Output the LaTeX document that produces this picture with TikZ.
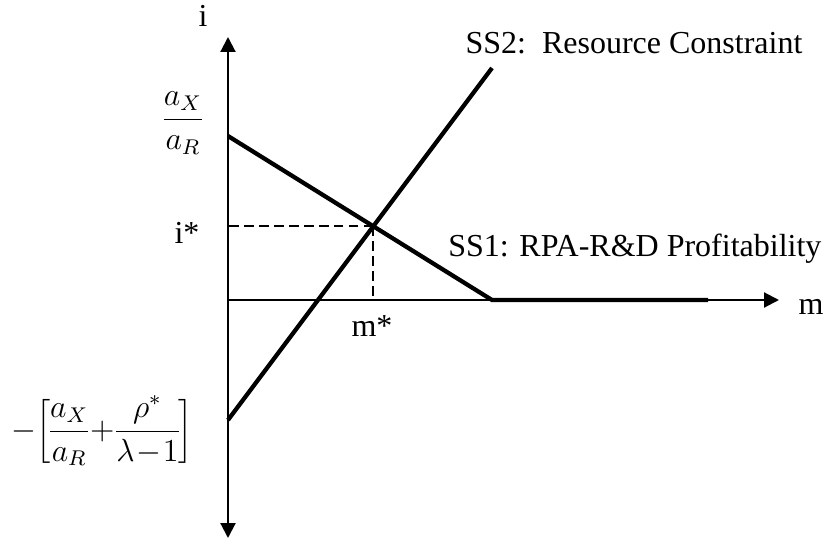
\documentclass[tikz,border=0pt]{standalone}
\usepackage{fontspec}
\setmainfont{Liberation Serif}
\usepackage{tikz}
\usetikzlibrary{arrows.meta}

\begin{document}
\begin{tikzpicture}[x=0.375pt, y=-0.375pt, font=\fontsize{12}{14}\selectfont,
  >={Triangle[length=5.6pt, width=5.6pt]},
  axis/.style={line width=0.8pt},
  curve/.style={line width=1.6pt, line join=miter},
  guide/.style={line width=0.7pt, dash pattern=on 3.6pt off 2pt},
  lbl/.style={inner sep=0pt}]
  \useasboundingbox (0,0) rectangle (830,539);
  % axes
  \coordinate (O) at (228,300);
  \coordinate (itop) at (228,37);
  \coordinate (ibot) at (228,538);
  \coordinate (mend) at (779,300);
  \draw[axis, <->] (ibot) -- (itop);
  \draw[axis, ->] (O) -- (mend);
  % SS1 and SS2
  \coordinate (ss1a) at (228,136);
  \coordinate (ss1b) at (492,300);
  \coordinate (ss1c) at (708,300);
  \coordinate (ss2a) at (228,420);
  \coordinate (ss2b) at (492,68);
  \draw[curve] (ss1a) -- (ss1b) -- (ss1c);
  \draw[curve] (ss2a) -- (ss2b);
  % equilibrium
  \coordinate (eq) at (intersection of ss1a--ss1b and ss2a--ss2b);
  \draw[guide] (eq) -- (eq -| O);
  \draw[guide] (eq) -- (eq |- O);
  % labels
  \node[lbl, anchor=base] (ilbl) at (203,27) {i};
  \node[lbl, anchor=base] (mlbl) at (811,314) {m};
  \node[lbl, anchor=base] (istar) at (187,243) {i*};
  \node[lbl, anchor=base] (mstar) at (372,337) {m*};
  \node[lbl] (high) at (183,123) {$\displaystyle\frac{a_X}{a_R}$};
  \node[lbl] (low) at (102,431) {\medmuskip=1mu\thickmuskip=1mu\nulldelimiterspace=0pt
    $-\!\left[\displaystyle\frac{a_X}{a_R}+\frac{\rho^*}{\lambda-1}\right]$};
  \node[lbl, anchor=base west] (ss2lbl) at (465,53) {SS2:\ \ Resource Constraint};
  \node[lbl, anchor=base east] (ss1lbl) at (822,256) {SS1: RPA-R\&D Profitability};
\end{tikzpicture}
\end{document}
